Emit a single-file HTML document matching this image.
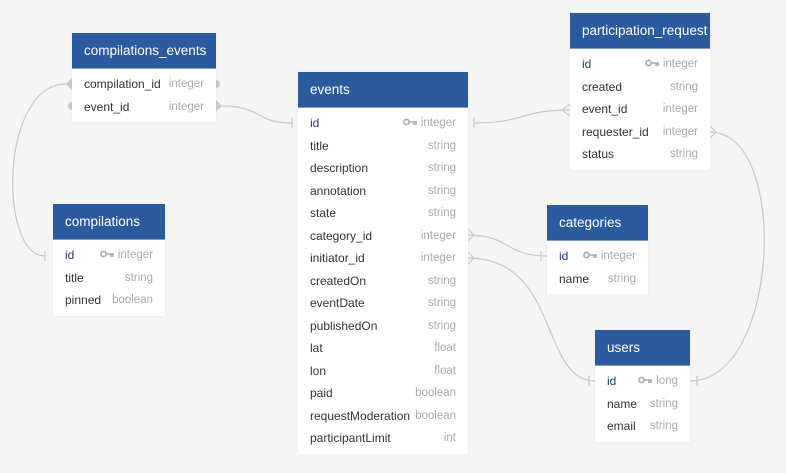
<!DOCTYPE html>
<html><head><meta charset="utf-8"><style>
body{margin:0;width:786px;height:473px;background:#f5f5f6;font-family:"Liberation Sans",Arial,sans-serif;position:relative;overflow:hidden}
.t{position:absolute;background:#fff;box-shadow:0 0 2px rgba(0,0,0,.06)}
.h{background:#2b5a9e;color:#fff;font-size:13.5px;height:35px;line-height:35px;padding-left:12px;border-bottom:1px solid #7f9cc8;white-space:nowrap;overflow:hidden}
.b{padding:4px 0 4px}
.r{height:22.5px;line-height:22.5px;font-size:12px;color:#333;padding:0 12px;position:relative}
.r .y{position:absolute;right:12px;top:0;line-height:22.5px;color:#aaa;font-size:11.5px}
.r.k{color:#203a70}
.key{display:inline-block;vertical-align:middle;margin-right:4px;margin-top:-2px}
</style></head><body>
<svg width="786" height="473" style="position:absolute;left:0;top:0" fill="none" stroke="#c8c8cc" stroke-width="1.2">
<path d="M66,84 C0,84 -2,256 45,256"/>
<path d="M222,106 C262,106 255,123 292,123"/>
<path d="M474,123 C525,123 520,110 570,110"/>
<path d="M468,235 C510,235 505,256 547,256"/>
<path d="M468,258 C560,258 540,381 595,381"/>
<path d="M710,132 C790,132 780,381 690,381"/>
<path d="M45,251v10M292,118v10M474,118v10M541,251v10M589,376v10M697,376v10"/>
<path d="M570,104 L562,110 L570,116M468,229 L474,235 L468,241M468,252 L474,258 L468,264M710,126 L716,132 L710,138"/>
<g fill="#c8c8d2" stroke="none">
<path d="M66,84 l6,-6 l6,6 l-6,6z"/><circle cx="72" cy="106" r="4"/>
<circle cx="216" cy="84" r="4"/><path d="M210,106 l6,-6 l6,6 l-6,6z"/>
</g>
</svg>

<div class="t" style="left:72px;top:33px;width:144px"><div class="h">compilations_events</div><div class="b">
<div class="r">compilation_id<span class="y">integer</span></div>
<div class="r">event_id<span class="y">integer</span></div></div></div>

<div class="t" style="left:53px;top:204px;width:112px"><div class="h">compilations</div><div class="b">
<div class="r k">id<span class="y"><svg class="key" width="14" height="8"><circle cx="3.5" cy="4" r="2.6" fill="none" stroke="#aaa" stroke-width="1.6"/><path d="M6,4h8M11,4v3M13,4v3" stroke="#aaa" stroke-width="1.6"/></svg>integer</span></div>
<div class="r">title<span class="y">string</span></div>
<div class="r">pinned<span class="y">boolean</span></div></div></div>

<div class="t" style="left:298px;top:72px;width:170px"><div class="h">events</div><div class="b">
<div class="r k">id<span class="y"><svg class="key" width="14" height="8"><circle cx="3.5" cy="4" r="2.6" fill="none" stroke="#aaa" stroke-width="1.6"/><path d="M6,4h8M11,4v3M13,4v3" stroke="#aaa" stroke-width="1.6"/></svg>integer</span></div>
<div class="r">title<span class="y">string</span></div>
<div class="r">description<span class="y">string</span></div>
<div class="r">annotation<span class="y">string</span></div>
<div class="r">state<span class="y">string</span></div>
<div class="r">category_id<span class="y">integer</span></div>
<div class="r">initiator_id<span class="y">integer</span></div>
<div class="r">createdOn<span class="y">string</span></div>
<div class="r">eventDate<span class="y">string</span></div>
<div class="r">publishedOn<span class="y">string</span></div>
<div class="r">lat<span class="y">float</span></div>
<div class="r">lon<span class="y">float</span></div>
<div class="r">paid<span class="y">boolean</span></div>
<div class="r">requestModeration<span class="y">boolean</span></div>
<div class="r">participantLimit<span class="y">int</span></div></div></div>

<div class="t" style="left:570px;top:13px;width:140px"><div class="h">participation_request</div><div class="b">
<div class="r k">id<span class="y"><svg class="key" width="14" height="8"><circle cx="3.5" cy="4" r="2.6" fill="none" stroke="#aaa" stroke-width="1.6"/><path d="M6,4h8M11,4v3M13,4v3" stroke="#aaa" stroke-width="1.6"/></svg>integer</span></div>
<div class="r">created<span class="y">string</span></div>
<div class="r">event_id<span class="y">integer</span></div>
<div class="r">requester_id<span class="y">integer</span></div>
<div class="r">status<span class="y">string</span></div></div></div>

<div class="t" style="left:547px;top:205px;width:101px"><div class="h">categories</div><div class="b">
<div class="r k">id<span class="y"><svg class="key" width="14" height="8"><circle cx="3.5" cy="4" r="2.6" fill="none" stroke="#aaa" stroke-width="1.6"/><path d="M6,4h8M11,4v3M13,4v3" stroke="#aaa" stroke-width="1.6"/></svg>integer</span></div>
<div class="r">name<span class="y">string</span></div></div></div>

<div class="t" style="left:595px;top:330px;width:95px"><div class="h">users</div><div class="b">
<div class="r k">id<span class="y"><svg class="key" width="14" height="8"><circle cx="3.5" cy="4" r="2.6" fill="none" stroke="#aaa" stroke-width="1.6"/><path d="M6,4h8M11,4v3M13,4v3" stroke="#aaa" stroke-width="1.6"/></svg>long</span></div>
<div class="r">name<span class="y">string</span></div>
<div class="r">email<span class="y">string</span></div></div></div>
</body></html>
